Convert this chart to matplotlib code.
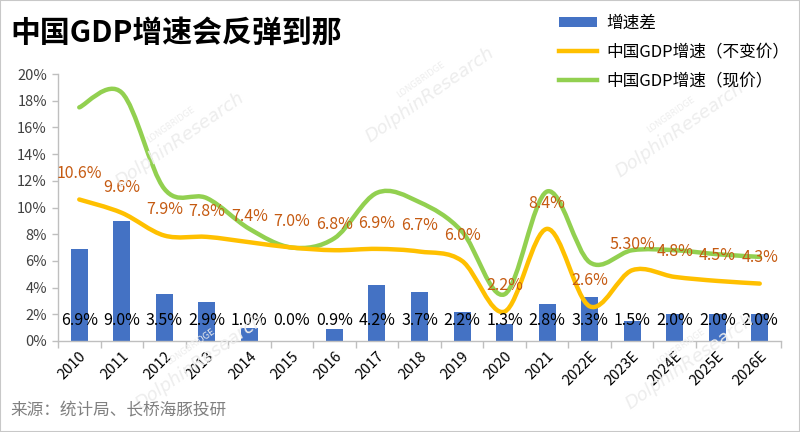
import matplotlib
matplotlib.use('Agg')
import matplotlib.pyplot as plt
from matplotlib.path import Path
from matplotlib.patches import PathPatch, Rectangle, Patch
from matplotlib.lines import Line2D
import numpy as np

plt.rcParams['font.family'] = ['Noto Sans CJK SC', 'DejaVu Sans']

years = ['2010', '2011', '2012', '2013', '2014', '2015', '2016', '2017', '2018',
         '2019', '2020', '2021', '2022E', '2023E', '2024E', '2025E', '2026E']
real_growth = [10.6, 9.6, 7.9, 7.8, 7.4, 7.0, 6.8, 6.9, 6.7, 6.0, 2.2, 8.4, 2.6, 5.3, 4.8, 4.5, 4.3]
real_labels = ['10.6%', '9.6%', '7.9%', '7.8%', '7.4%', '7.0%', '6.8%', '6.9%', '6.7%',
               '6.0%', '2.2%', '8.4%', '2.6%', '5.30%', '4.8%', '4.5%', '4.3%']
nominal_growth = [17.5, 18.6, 11.4, 10.7, 8.4, 7.0, 7.7, 11.1, 10.4, 8.2, 3.5, 11.2, 5.9, 6.8, 6.8, 6.5, 6.3]
growth_gap = [6.9, 9.0, 3.5, 2.9, 1.0, 0.0, 0.9, 4.2, 3.7, 2.2, 1.3, 2.8, 3.3, 1.5, 2.0, 2.0, 2.0]
yticks = [0, 2, 4, 6, 8, 10, 12, 14, 16, 18, 20]

BLUE = '#4472C4'
YELLOW = '#FFC000'
GREEN = '#92D050'
ORANGE = '#C55A11'
AXIS = '#BFBFBF'


def smooth_path(xs, ys):
    pts = np.column_stack([xs, ys]).astype(float)
    n = len(pts)
    verts = [pts[0]]
    codes = [Path.MOVETO]
    for i in range(n - 1):
        p0 = pts[i - 1] if i > 0 else pts[i]
        p1 = pts[i]
        p2 = pts[i + 1]
        p3 = pts[i + 2] if i + 2 < n else pts[i + 1]
        c1 = p1 + (p2 - p0) / 6.0
        c2 = p2 - (p3 - p1) / 6.0
        verts += [c1, c2, p2]
        codes += [Path.CURVE4] * 3
    return Path(verts, codes)


fig = plt.figure(figsize=(8, 4.32), dpi=100)
ax = fig.add_axes([58 / 800, 1 - 341 / 432, (781 - 58) / 800, (341 - 74) / 432])

x = np.arange(len(years))

# faint watermarks
for (wx, wy) in [(180, 140), (430, 95), (680, 130), (200, 362), (690, 362)]:
    fx, fy = wx / 800, 1 - wy / 432
    fig.text(fx - 0.012, fy + 0.035, 'LONGBRIDGE', fontsize=6, color='#EDEDED', rotation=35,
             ha='center', va='center', family='DejaVu Sans', zorder=0)
    fig.text(fx, fy, 'DolphinResearch', fontsize=13, color='#EDEDED', rotation=35,
             ha='center', va='center', family='DejaVu Sans', style='italic', zorder=0)

ax.bar(x, growth_gap, width=0.4, color=BLUE, zorder=2)

for data, col in [(nominal_growth, GREEN), (real_growth, YELLOW)]:
    patch = PathPatch(smooth_path(x, data), facecolor='none', edgecolor=col,
                      lw=3.2, capstyle='round', joinstyle='round', zorder=3)
    ax.add_patch(patch)

for i, (v, lab) in enumerate(zip(real_growth, real_labels)):
    ax.annotate(lab, (x[i], v), xytext=(0, 18.5), textcoords='offset points',
                ha='center', va='center', fontsize=11.5, color=ORANGE, zorder=5)

for i, v in enumerate(growth_gap):
    ax.annotate(f'{v:.1f}%', (x[i], 0), xytext=(0, 14.5), textcoords='offset points',
                ha='center', va='center', fontsize=11.5, color='black', zorder=5)

ax.set_xlim(-0.5, len(years) - 0.5)
ax.set_ylim(0, 20)
ax.set_yticks(yticks)
ax.set_yticklabels([f'{t}%' for t in yticks], fontsize=10.5, color='#404040')
ax.set_xticks(x)
ax.set_xticklabels(years, rotation=45, ha='right', va='top', rotation_mode='anchor',
                   fontsize=10.5, color='black')
ax.tick_params(axis='x', length=0, pad=6)
ax.set_xticks(np.arange(-0.5, len(years), 1), minor=True)
ax.tick_params(axis='x', which='minor', length=5, color=AXIS, width=1)
ax.tick_params(axis='y', length=4, color=AXIS, width=1, pad=4)
for s in ['top', 'right']:
    ax.spines[s].set_visible(False)
for s in ['left', 'bottom']:
    ax.spines[s].set_color(AXIS)
    ax.spines[s].set_linewidth(1)
ax.patch.set_alpha(0)

fig.text(10 / 800, 1 - 33 / 432, '中国GDP增速会反弹到那', fontsize=21.5, fontweight='heavy',
         ha='left', va='center', color='black')
fig.text(10 / 800, 1 - 410 / 432, '来源：统计局、长桥海豚投研', fontsize=12,
         ha='left', va='center', color='#808080')

handles = [Patch(facecolor=BLUE, edgecolor='none'),
           Line2D([], [], color=YELLOW, lw=3.2),
           Line2D([], [], color=GREEN, lw=3.2)]
labels = ['增速差', '中国GDP增速（不变价）', '中国GDP增速（现价）']
fig.legend(handles, labels, loc='upper left', bbox_to_anchor=(552 / 800, 1 - 8 / 432),
           frameon=False, fontsize=12, handlelength=2.3, handleheight=0.5,
           labelspacing=0.72, handletextpad=0.55, borderaxespad=0)

fig.add_artist(Rectangle((0, 0), 1, 1, transform=fig.transFigure, fill=False,
                         edgecolor='#C8C8C8', lw=1.5))

fig.savefig('out.png', dpi=100)
